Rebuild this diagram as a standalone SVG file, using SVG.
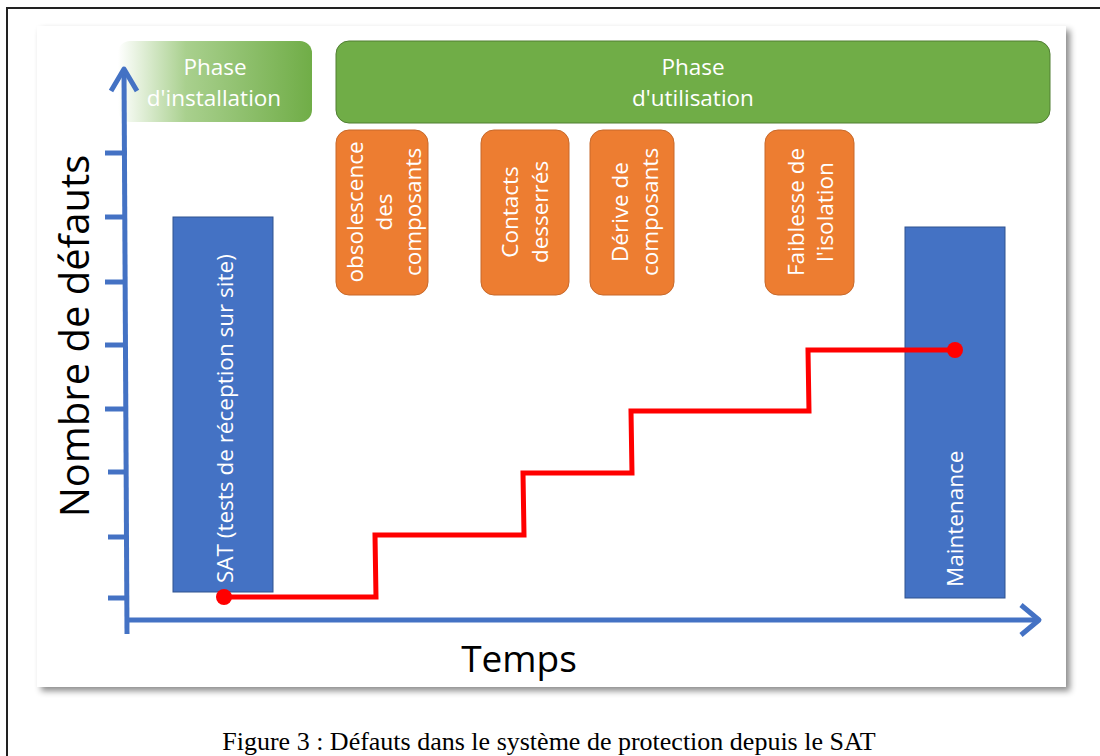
<svg xmlns="http://www.w3.org/2000/svg" width="1100" height="756" viewBox="0 0 1100 756">
  <defs>
    <linearGradient id="gInst" x1="0" y1="0" x2="1" y2="0">
      <stop offset="0" stop-color="#ffffff"/>
      <stop offset="0.35" stop-color="#a9d08e"/>
      <stop offset="1" stop-color="#70ad47"/>
    </linearGradient>
    <filter id="shadow" x="-5%" y="-5%" width="110%" height="115%">
      <feDropShadow dx="4" dy="4" stdDeviation="3" flood-color="#000" flood-opacity="0.45"/>
    </filter>
    <style>
      .lbl { font-family: "Open Sans", "Noto Sans", sans-serif; fill: #ffffff; font-size: 22.5px; text-anchor: middle; }
      .orange { fill: #ed7d31; stroke: #c8692a; stroke-width: 1; }
      .blue { fill: #4472c4; stroke: #2f528f; stroke-width: 1; }
      .axis { fill: none; stroke: #4472c4; stroke-width: 5; stroke-linejoin: round; }
      .tick { stroke: #4472c4; stroke-width: 5; }
      .red { fill: none; stroke: #ff0000; stroke-width: 5; stroke-linejoin: miter; }
      .big { font-family: "Open Sans", "Noto Sans", sans-serif; fill: #000; text-anchor: middle; }
    </style>
  </defs>

  <rect x="0" y="0" width="1100" height="756" fill="#ffffff"/>
  <rect x="7" y="8" width="1100" height="760" fill="none" stroke="#222" stroke-width="2"/>

  <g id="panel">
    <rect x="37" y="26" width="1029" height="661" fill="#ffffff" filter="url(#shadow)"/>
  </g>

  <g id="phase-installation">
    <rect x="118" y="41" width="194" height="81" rx="12" fill="url(#gInst)"/>
    <text class="lbl" x="215" y="75">Phase</text>
    <text class="lbl" x="214" y="106">d'installation</text>
  </g>

  <g id="phase-utilisation">
    <rect x="336" y="41" width="714" height="82" rx="13" fill="#70ad47" stroke="#507e32" stroke-width="1"/>
    <text class="lbl" x="693" y="75">Phase</text>
    <text class="lbl" x="693" y="106">d'utilisation</text>
  </g>

  <g id="obsolescence">
    <rect class="orange" x="336" y="130" width="92" height="165" rx="13"/>
    <g transform="translate(382,212) rotate(-90)">
      <text class="lbl" x="0" y="-19">obsolescence</text>
      <text class="lbl" x="0" y="10">des</text>
      <text class="lbl" x="0" y="39">composants</text>
    </g>
  </g>

  <g id="contacts">
    <rect class="orange" x="481" y="130" width="88" height="165" rx="13"/>
    <g transform="translate(525,212) rotate(-90)">
      <text class="lbl" x="0" y="-7">Contacts</text>
      <text class="lbl" x="0" y="23">desserrés</text>
    </g>
  </g>

  <g id="derive">
    <rect class="orange" x="590" y="130" width="84" height="165" rx="13"/>
    <g transform="translate(632,212) rotate(-90)">
      <text class="lbl" x="0" y="-4">Dérive de</text>
      <text class="lbl" x="0" y="26">composants</text>
    </g>
  </g>

  <g id="faiblesse">
    <rect class="orange" x="765" y="130" width="89" height="165" rx="13"/>
    <g transform="translate(809,212) rotate(-90)">
      <text class="lbl" x="0" y="-5">Faiblesse de</text>
      <text class="lbl" x="0" y="24">l'isolation</text>
    </g>
  </g>

  <g id="sat">
    <rect class="blue" x="173" y="217" width="100" height="375"/>
    <text class="lbl" style="text-anchor:start;font-size:22.5px" transform="translate(233,583) rotate(-90)">SAT (tests de réception sur site)</text>
  </g>

  <g id="maintenance">
    <rect class="blue" x="905" y="227" width="100" height="371"/>
    <text class="lbl" style="text-anchor:start" transform="translate(963,587) rotate(-90)">Maintenance</text>
  </g>

  <g id="axes">
    <line class="tick" x1="105" y1="153" x2="127" y2="153"/>
    <line class="tick" x1="105" y1="217" x2="127" y2="217"/>
    <line class="tick" x1="105" y1="282" x2="127" y2="282"/>
    <line class="tick" x1="105" y1="345" x2="127" y2="345"/>
    <line class="tick" x1="105" y1="409" x2="127" y2="409"/>
    <line class="tick" x1="108" y1="472" x2="128" y2="472"/>
    <line class="tick" x1="108" y1="537" x2="128" y2="537"/>
    <line class="tick" x1="108" y1="598" x2="128" y2="598"/>
    <path class="axis" d="M127,634 L124,70"/>
    <path class="axis" d="M111,91 L124,69 L137,91"/>
    <path class="axis" d="M125,620 L1038,620"/>
    <path class="axis" d="M1021,605 L1039,620 L1021,635"/>
  </g>

  <g id="connectors">
    <path class="red" d="M224,597 L376,597 L375,535 L524,535 L523,473 L632,473 L631,411 L809,411 L808,350 L955,350"/>
    <circle cx="224" cy="597" r="8" fill="#ff0000"/>
    <circle cx="955" cy="350" r="8" fill="#ff0000"/>
  </g>

  <g id="labels">
    <text class="big" x="519" y="672" font-size="37">Temps</text>
    <text class="big" font-size="40" transform="translate(89,336) rotate(-90)">Nombre de défauts</text>
  </g>

  <text x="549" y="750" font-family="'Liberation Serif', serif" font-size="26" text-anchor="middle" fill="#000">Figure 3 : Défauts dans le système de protection depuis le SAT</text>
</svg>
